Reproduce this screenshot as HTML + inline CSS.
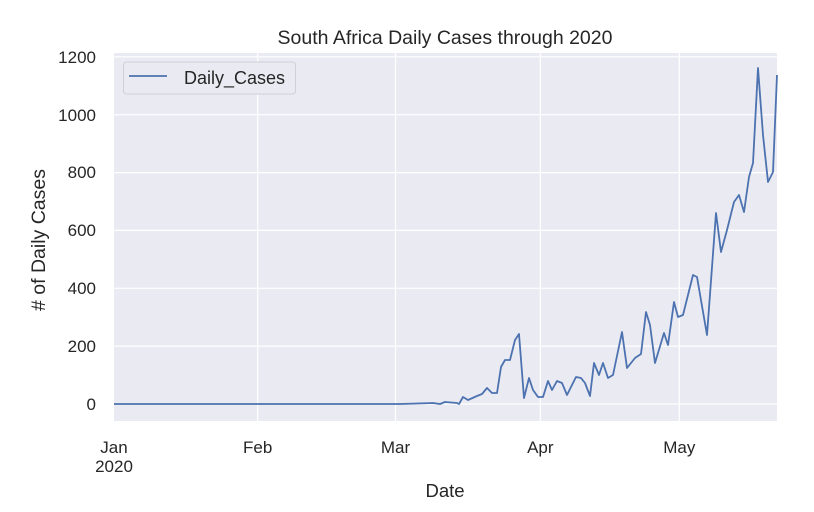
<!DOCTYPE html>
<html><head><meta charset="utf-8"><style>
body{margin:0;background:#fff;}
svg{display:block;font-family:"Liberation Sans",Arial,sans-serif;}
</style></head><body>
<svg width="814" height="512" viewBox="0 0 814 512">
<rect x="114" y="53" width="663" height="368" fill="#eaeaf2"/>
<g stroke="#fff" stroke-width="1.2">
<line x1="114" y1="404" x2="777" y2="404"/>
<line x1="114" y1="346.1" x2="777" y2="346.1"/>
<line x1="114" y1="288.3" x2="777" y2="288.3"/>
<line x1="114" y1="230.4" x2="777" y2="230.4"/>
<line x1="114" y1="172.6" x2="777" y2="172.6"/>
<line x1="114" y1="114.7" x2="777" y2="114.7"/>
<line x1="114" y1="56.8" x2="777" y2="56.8"/>
<line x1="257.7" y1="53" x2="257.7" y2="421"/>
<line x1="395.5" y1="53" x2="395.5" y2="421"/>
<line x1="540.3" y1="53" x2="540.3" y2="421"/>
<line x1="679.3" y1="53" x2="679.3" y2="421"/>
</g>
<polyline fill="none" stroke="#4c72b0" stroke-width="1.8" stroke-linejoin="round" points="114,404 400,404 433,403 440,404 445,402 457,403 459,404 463,397 468,400 477,396 482,394 487,388 492,393 497,393 501,367 505,360 510,360 515,340 519,334 524,398 529,378 533,390 538,397 543,397 548,381 552,390 557,381 562,383 567,395 576,377 581,378 585,383 590,396 594,363 599,375 603,363 608,378 613,375 622,332 627,368 635,358 641,354 646,312 650,325 655,363 664,333 668,345 674,302 678,317 683,315 693,275 697,277 707,335 716,213 721,252 727,230 734,202 739,195 744,212 749,177 753,163 758,68 763,135 768,182 773,172 777,75"/>
<rect x="123.5" y="62" width="172" height="32" rx="3" fill="#eaeaf2" stroke="#d0d0d8" stroke-width="1"/>
<line x1="129" y1="76" x2="167" y2="76" stroke="#4c72b0" stroke-width="1.8"/>
<text x="184" y="84" font-size="18" fill="#262626">Daily_Cases</text>
<g font-size="17" fill="#262626" text-anchor="end">
<text x="96" y="410">0</text>
<text x="96" y="352">200</text>
<text x="96" y="294">400</text>
<text x="96" y="236">600</text>
<text x="96" y="178">800</text>
<text x="96" y="121">1000</text>
<text x="96" y="63">1200</text>
</g>
<g font-size="17" fill="#262626" text-anchor="middle">
<text x="114" y="453">Jan</text>
<text x="114" y="472">2020</text>
<text x="257.7" y="453">Feb</text>
<text x="395.5" y="453">Mar</text>
<text x="540.3" y="453">Apr</text>
<text x="679.3" y="453">May</text>
<text x="445" y="497" font-size="18.5">Date</text>
<text x="445" y="44" font-size="19.5">South Africa Daily Cases through 2020</text>
<text transform="translate(45,240) rotate(-90)" font-size="19.5"># of Daily Cases</text>
</g>
</svg>
</body></html>
